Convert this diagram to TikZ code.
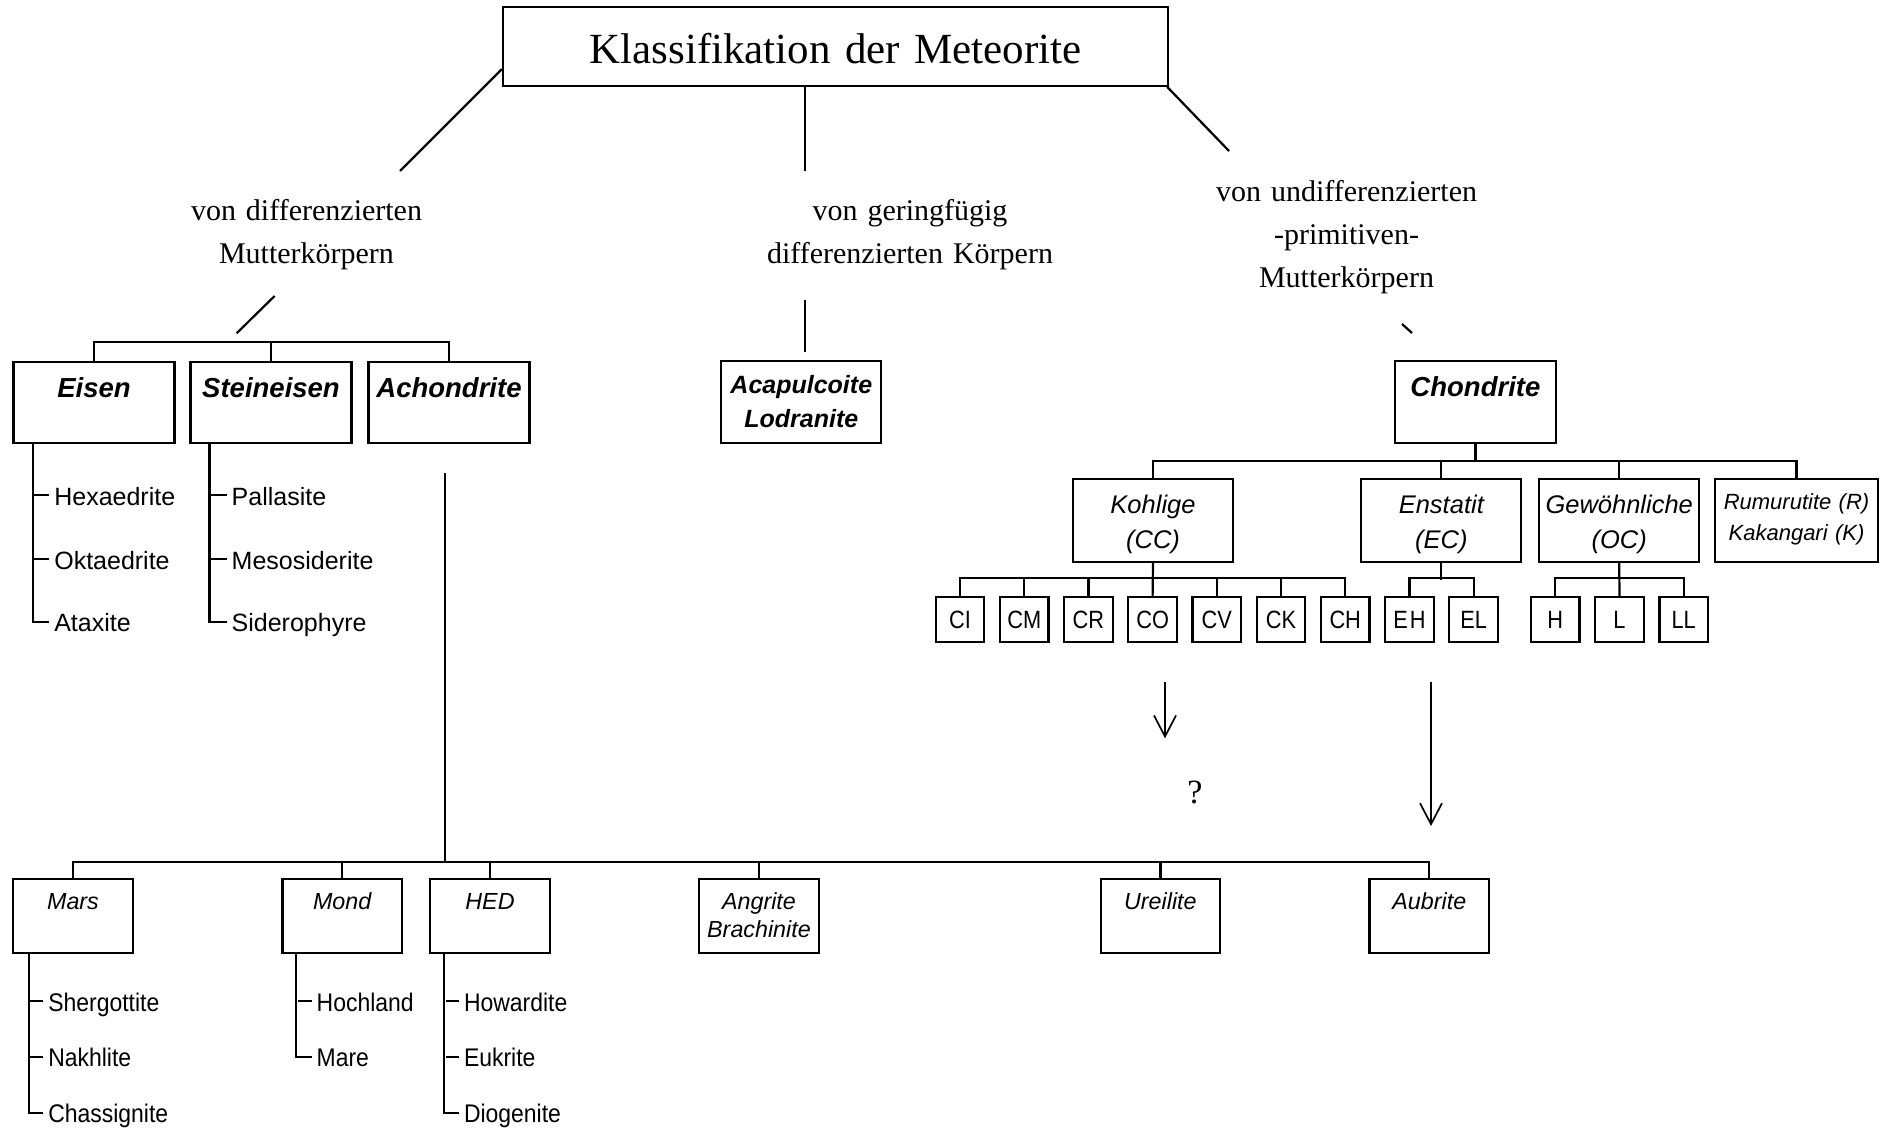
\documentclass[tikz,border=0pt]{standalone}
\usepackage{fontspec}
\setmainfont{Liberation Serif}
\setsansfont{Liberation Sans}
\newfontfamily\narrowsf{Liberation Sans}[FakeStretch=0.9]
\newfontfamily\leafsf{Liberation Sans}[FakeStretch=0.87]
\usetikzlibrary{arrows.meta}

\begin{document}
\begin{tikzpicture}[x=1pt,y=-1pt,
  branch/.style={line width=2.2pt},
  arr/.style={line width=1.7pt,-{Straight Barb[length=21pt,width=22pt]}},
  box/.style={draw,line width=2.2pt,inner sep=0pt,align=center},
  hdr/.style={box,text width=161pt,text height=35.5pt,text depth=46pt,
    font=\sffamily\bfseries\itshape\fontsize{27.5}{33}\selectfont},
  subcls/.style={box,text width=160pt,text height=34pt,text depth=48.4pt,
    font=\sffamily\itshape\fontsize{25.5}{35}\selectfont},
  lowbox/.style={box,text width=119.5pt,text height=30pt,text depth=44pt,
    font=\sffamily\itshape\fontsize{23.3}{28.3}\selectfont},
  leaf/.style={box,minimum width=48.5pt,minimum height=44.4pt,
    font=\leafsf\fontsize{25}{28}\selectfont},
  item/.style={anchor=west,inner sep=0pt,outer xsep=5pt,text height=20pt,text depth=0pt,
    font=\sffamily\fontsize{25}{28}\selectfont},
  litem/.style={item,font=\narrowsf\fontsize{25.5}{28}\selectfont},
  subtitle/.style={anchor=base,text width=330pt,align=center,inner sep=0pt,
    font=\rmfamily\fontsize{30}{43}\selectfont}]
\useasboundingbox (0,0) rectangle (1887,1129);

% title and the three origins
\node[box,text width=665pt,text height=56pt,text depth=22.4pt,
  font=\rmfamily\fontsize{43}{50}\selectfont] (title) at (835.5,46.5) {Klassifikation der Meteorite};
\node[subtitle] (diff) at (306.5,220) {von differenzierten\\Mutterkörpern};
\node[subtitle] (gering) at (910,220) {von geringfügig\\differenzierten Körpern};
\node[subtitle] (undiff) at (1346.5,201.7) {von undifferenzierten\\-primitiven-\\Mutterkörpern};

\coordinate (lt) at (400,171);
\coordinate (mt) at (805,171);
\coordinate (rt) at (1229,151);
\draw[branch] ([yshift=17.7pt]title.south west) -- (lt);
\draw[branch] (title.south -| mt) -- (mt);
\draw[branch] ([xshift=-2pt]title.south east) -- (rt);

\coordinate (la) at (274.6,296);
\coordinate (lb) at (236.6,333.3);
\draw[branch] (la) -- (lb);
\coordinate (ma) at (805,300);
\coordinate (mb) at (805,352);
\draw[branch] (ma) -- (mb);
\coordinate (ra) at (1402,324);
\coordinate (rb) at (1412,333);
\draw[branch] (ra) -- (rb);

% main groups
\node[hdr] (eisen) at (94,402.5) {Eisen};
\node[hdr] (steineisen) at (271,402.5) {Steineisen};
\node[hdr] (achondrite) at (449,402.5) {Achondrite};
\node[hdr,text width=160pt,text height=32pt,text depth=50.3pt,
  font=\sffamily\bfseries\itshape\fontsize{25}{34}\selectfont] (acap) at (801.3,402.2) {Acapulcoite\\Lodranite};
\node[hdr] (chondrite) at (1475.4,402) {Chondrite};

\draw[branch] (eisen.north) -- ++(0,-18.4) -| (achondrite.north);
\draw[branch] (steineisen.north) -- ++(0,-18.4);

% Eisen and Steineisen
\node[item] (hexa) at (49.3,495) {Hexaedrite};
\node[item] (okta) at (49.3,559.3) {Oktaedrite};
\node[item] (ataxite) at (49.3,621.7) {Ataxite};
\draw[branch] ([xshift=20.3pt]eisen.south west) |- (ataxite.west);
\foreach \n in {hexa,okta} \draw[branch] (\n.west) -- ++(-16.3,0);

\node[item] (pallas) at (226.7,495) {Pallasite};
\node[item] (meso) at (226.7,559.3) {Mesosiderite};
\node[item] (sidero) at (226.7,621.7) {Siderophyre};
\draw[branch] ([xshift=20pt]steineisen.south west) |- (sidero.west);
\foreach \n in {pallas,meso} \draw[branch] (\n.west) -- ++(-16,0);

% Chondrite
\node[subcls] (kohlige) at (1153,520.5) {Kohlige\\(CC)};
\node[subcls] (enstatit) at (1441.3,520.5) {Enstatit\\(EC)};
\node[subcls] (gewoehn) at (1619.2,520.5) {Gewöhnliche\\(OC)};
\node[subcls,text width=162.5pt,text height=30pt,text depth=52.4pt,
  font=\sffamily\itshape\fontsize{22}{31}\selectfont] (rumu) at (1796.5,520.5) {Rumurutite (R)\\Kakangari (K)};

\draw[branch] (chondrite.south) -- ++(0,18.2);
\draw[branch] (kohlige.north) -- ++(0,-17.6) -| (rumu.north);
\foreach \n in {enstatit,gewoehn} \draw[branch] (\n.north) -- ++(0,-17.6);

\foreach \n/\t [count=\i from 0] in {ci/CI,cm/CM,cr/CR,co/CO,cv/CV,ck/CK,ch/CH,eh/E\kern2pt H,el/EL}
  \node[leaf] (\n) at ({960+64.2*\i},619.5) {\t};
\foreach \n/\t [count=\i from 0] in {oh/H,ol/L,oll/LL}
  \node[leaf] (\n) at ({1555.3+64.2*\i},619.5) {\t};

\draw[branch] (kohlige.south) -- (co.north);
\draw[branch] (ci.north) -- ++(0,-18) -| (ch.north);
\foreach \n in {cm,cr,cv,ck} \draw[branch] (\n.north) -- ++(0,-18);
\draw[branch] (enstatit.south) -- ++(0,17.6);
\draw[branch] (eh.north) -- ++(0,-18) -| (el.north);
\draw[branch] (gewoehn.south) -- (ol.north);
\draw[branch] (oh.north) -- ++(0,-18) -| (oll.north);

% arrows to the achondrites
\coordinate (a1) at (1165,681.7);
\coordinate (a2) at (1431,681.7);
\draw[arr] (a1) -- ++(0,56.6);
\draw[arr] (a2) -- ++(0,144.3);
\node[inner sep=0pt,anchor=base,font=\rmfamily\fontsize{34}{40}\selectfont] (q) at (1195,803) {?};

% Achondrite
\coordinate (ach) at (445,473.3);
\draw[branch] (ach) -- ++(0,390);

\node[lowbox] (mars) at (73,916.3) {Mars};
\node[lowbox] (mond) at (342.2,916.3) {Mond};
\node[lowbox] (hed) at (490,916.3) {HED};
\node[lowbox] (angrite) at (759,916.3) {Angrite\\Brachinite};
\node[lowbox] (ureilite) at (1160.4,916.3) {Ureilite};
\node[lowbox] (aubrite) at (1429.3,916.3) {Aubrite};

\draw[branch] (mars.north) -- ++(0,-16) -| (aubrite.north);
\foreach \n in {mond,hed,angrite,ureilite} \draw[branch] (\n.north) -- ++(0,-16);

\node[litem] (sherg) at (43.3,1001) {Shergottite};
\node[litem] (nakh) at (43.3,1056.7) {Nakhlite};
\node[litem] (chass) at (43.3,1112.7) {Chassignite};
\draw[branch] ([xshift=16.6pt]mars.south west) |- (chass.west);
\foreach \n in {sherg,nakh} \draw[branch] (\n.west) -- ++(-14,0);

\node[litem] (hoch) at (311.7,1001) {Hochland};
\node[litem] (mare) at (311.7,1056.7) {Mare};
\draw[branch] ([xshift=15pt]mond.south west) |- (mare.west);
\draw[branch] (hoch.west) -- ++(-14,0);

\node[litem] (howard) at (459,1001) {Howardite};
\node[litem] (eukr) at (459,1056.7) {Eukrite};
\node[litem] (diog) at (459,1112.7) {Diogenite};
\draw[branch] ([xshift=14.7pt]hed.south west) |- (diog.west);
\foreach \n in {howard,eukr} \draw[branch] (\n.west) -- ++(-13.3,0);
\end{tikzpicture}
\end{document}
